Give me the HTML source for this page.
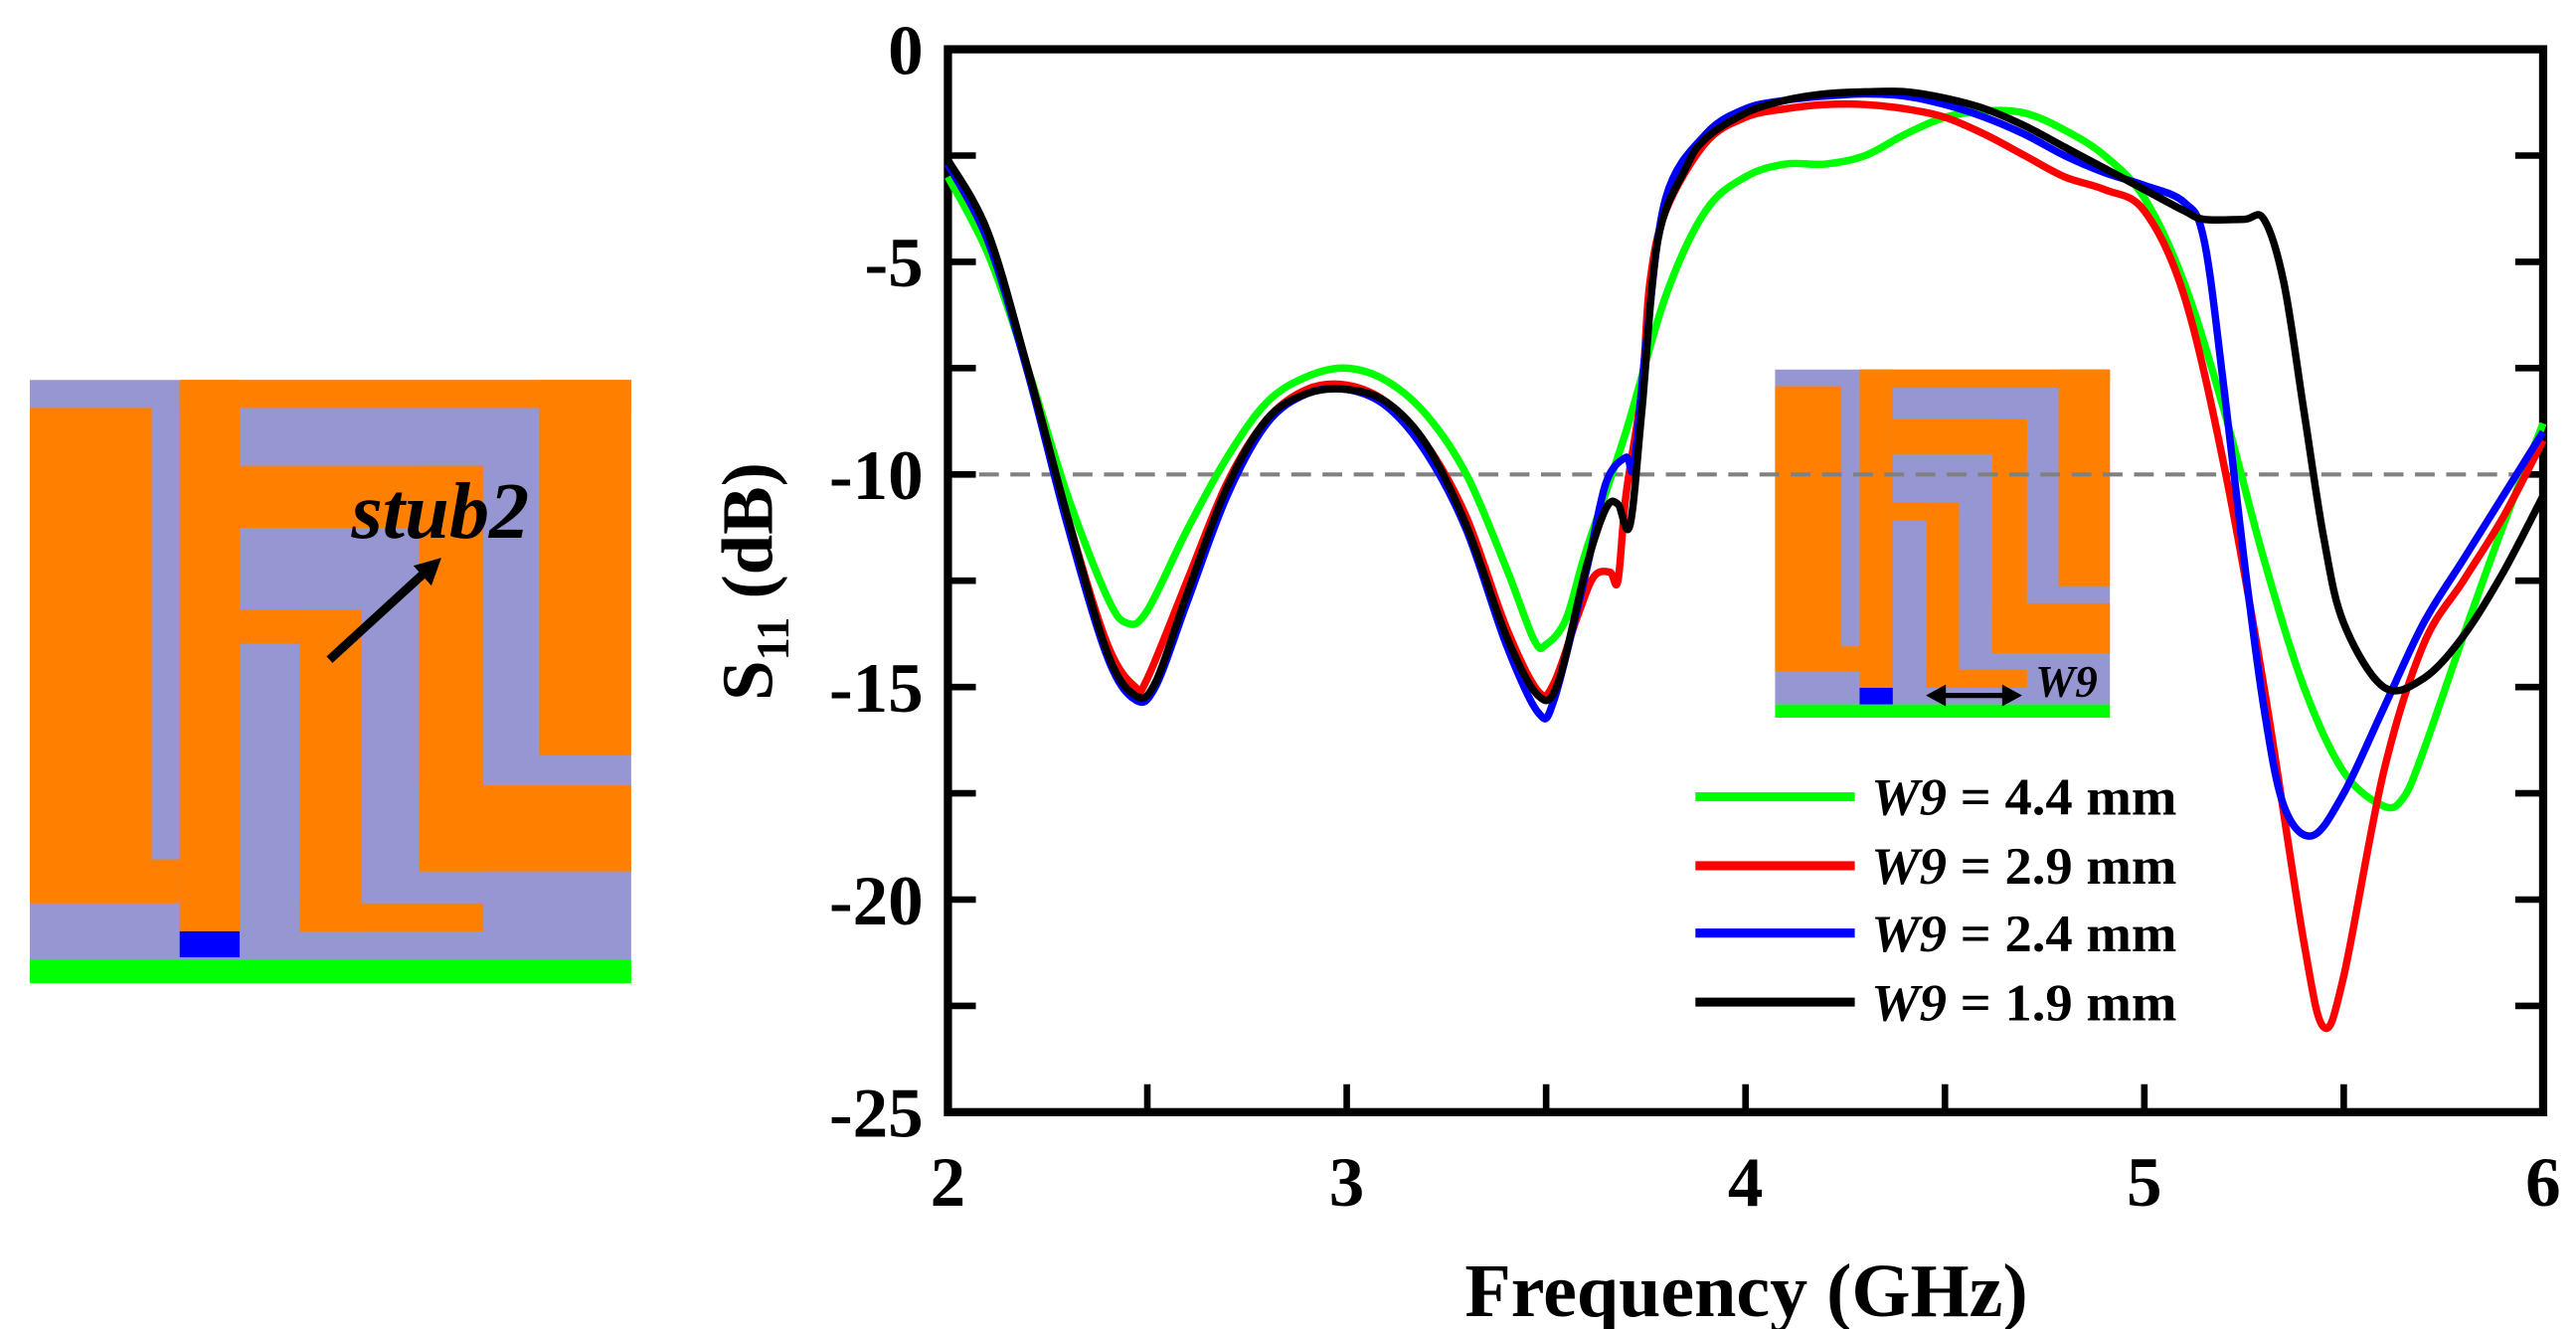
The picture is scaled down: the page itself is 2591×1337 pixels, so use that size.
<!DOCTYPE html>
<html><head><meta charset="utf-8"><style>
html,body{margin:0;padding:0;background:#fff;}
svg{display:block;}
text{font-family:"Liberation Serif",serif;font-weight:bold;}
</style></head>
<body>
<svg id="chart" xmlns="http://www.w3.org/2000/svg" width="2591" height="1337" viewBox="0 0 1568 809" preserveAspectRatio="none">
  <g transform="translate(12.1,224) scale(0.2432)">
    <rect x="25" y="30" width="1505" height="1450" fill="#9696d2"/>
    <rect x="25" y="1480" width="1505" height="60" fill="#00ff00"/>
    <g fill="#ff8000">
      <polygon points="25,100 330,100 330,1230 400,1230 400,1340 25,1340"/>
      <rect x="400" y="30" width="150" height="1380"/>
      <rect x="400" y="30" width="1130" height="70"/>
      <rect x="1300" y="30" width="230" height="940"/>
      <rect x="550" y="245" width="610" height="155"/>
      <rect x="1000" y="245" width="160" height="1015"/>
      <rect x="1000" y="1045" width="530" height="215"/>
      <rect x="550" y="605" width="305" height="85"/>
      <rect x="700" y="605" width="155" height="805"/>
      <rect x="700" y="1340" width="460" height="70"/>
    </g>
    <rect x="400" y="1410" width="150" height="65" fill="#0000ff"/>
    <text x="830" y="425" font-size="200" font-style="italic">stub2</text>
    <line x1="775" y1="730" x2="1010" y2="515" stroke="#000" stroke-width="22"/>
    <polygon points="1055,475 985,495 1030,545" fill="#000"/>
  </g>

  <g transform="translate(1071.4,217.9) scale(0.2018)">
    <rect x="45" y="35" width="1010" height="1010" fill="#9696d2"/>
    <rect x="45" y="1045" width="1010" height="40" fill="#00ff00"/>
    <g fill="#ff8000">
      <polygon points="45,85 245,85 245,870 300,870 300,945 45,945"/>
      <rect x="300" y="35" width="100" height="960"/>
      <rect x="300" y="35" width="755" height="55"/>
      <rect x="900" y="35" width="155" height="655"/>
      <rect x="400" y="185" width="405" height="105"/>
      <rect x="700" y="185" width="105" height="705"/>
      <rect x="700" y="740" width="355" height="150"/>
      <rect x="400" y="435" width="200" height="55"/>
      <rect x="500" y="435" width="100" height="560"/>
      <rect x="500" y="940" width="305" height="55"/>
    </g>
    <rect x="300" y="995" width="100" height="50" fill="#0000ff"/>
    <line x1="540" y1="1018" x2="750" y2="1018" stroke="#000" stroke-width="16"/>
    <polygon points="500,1018 560,985 560,1051" fill="#000"/>
    <polygon points="790,1018 730,985 730,1051" fill="#000"/>
    <text x="830" y="1022" font-size="135" font-style="italic">W9</text>
  </g>

  <g id="axes"></g>
  <g id="series"></g>
  <g id="legend"></g>
</svg>
<script>
const xTicks = [2, 3, 4, 5, 6];
const yTicks = [0, -5, -10, -15, -20, -25];
const seriesNames = ["W9 = 4.4 mm", "W9 = 2.9 mm", "W9 = 2.4 mm", "W9 = 1.9 mm"];
const seriesColors = ["#00ff00", "#ff0000", "#0000ff", "#000000"];
const freqGreen = [2.0,2.1,2.2,2.3,2.4,2.45,2.5,2.6,2.7,2.8,2.9,3.0,3.1,3.2,3.3,3.4,3.47,3.5,3.55,3.6,3.7,3.8,3.9,4.0,4.1,4.2,4.3,4.4,4.5,4.6,4.7,4.8,4.9,5.0,5.1,5.2,5.3,5.4,5.5,5.6,5.65,5.7,5.8,5.9,6.0];
const s11Green = [-3,-4.8,-7.5,-10.5,-12.9,-13.5,-13.2,-11.3,-9.6,-8.3,-7.7,-7.5,-7.8,-8.6,-10.0,-12.2,-13.9,-14.0,-13.4,-11.8,-9.0,-5.8,-3.8,-3.0,-2.7,-2.7,-2.5,-2.0,-1.6,-1.45,-1.5,-1.9,-2.5,-3.5,-5.5,-8.5,-12.0,-15.0,-17.0,-17.8,-17.6,-16.5,-13.8,-11.2,-8.8];
const freqRed = [2.0,2.1,2.2,2.3,2.4,2.47,2.5,2.6,2.7,2.8,2.9,3.0,3.1,3.2,3.3,3.4,3.48,3.52,3.58,3.62,3.66,3.68,3.7,3.74,3.76,3.8,3.9,4.0,4.1,4.2,4.3,4.4,4.5,4.6,4.7,4.8,4.9,5.0,5.1,5.2,5.3,5.4,5.45,5.5,5.6,5.7,5.8,5.9,6.0];
const s11Red = [-2.7,-4.5,-7.5,-11,-14.0,-15.0,-14.8,-12.5,-10.2,-8.7,-8.0,-7.9,-8.3,-9.3,-11.0,-13.6,-15.1,-14.9,-13.3,-12.4,-12.3,-12.5,-10.5,-8,-5.5,-3.8,-2.2,-1.6,-1.4,-1.3,-1.3,-1.4,-1.6,-2.0,-2.5,-3.0,-3.3,-3.8,-5.8,-9.8,-15,-21,-23,-21.8,-17,-14,-12.5,-11,-9.2];
const freqBlue = [2.0,2.1,2.2,2.3,2.4,2.47,2.52,2.6,2.7,2.8,2.9,3.0,3.1,3.2,3.3,3.4,3.48,3.52,3.6,3.65,3.7,3.72,3.75,3.8,3.9,4.0,4.1,4.2,4.3,4.4,4.5,4.6,4.7,4.8,4.9,5.0,5.1,5.15,5.2,5.25,5.3,5.35,5.42,5.5,5.6,5.7,5.8,5.9,6.0];
const s11Blue = [-2.7,-4.5,-7.6,-11.2,-14.3,-15.3,-15.0,-13,-10.5,-8.8,-8.1,-8.0,-8.4,-9.5,-11.3,-14,-15.6,-15.3,-12.3,-10.2,-9.6,-9.8,-7,-3.5,-2.0,-1.4,-1.2,-1.1,-1.05,-1.1,-1.3,-1.6,-2.0,-2.5,-2.9,-3.2,-3.6,-4.5,-8,-12,-15.5,-17.8,-18.5,-17.5,-15.5,-13.5,-12,-10.5,-9.0];
const freqBlack = [2.0,2.1,2.2,2.3,2.4,2.47,2.52,2.6,2.7,2.8,2.9,3.0,3.1,3.2,3.3,3.4,3.48,3.53,3.6,3.65,3.68,3.71,3.74,3.78,3.85,3.9,4.0,4.1,4.2,4.3,4.4,4.5,4.6,4.7,4.8,4.9,5.0,5.1,5.15,5.25,5.3,5.35,5.4,5.45,5.5,5.6,5.7,5.8,5.9,6.0];
const s11Black = [-2.6,-4.3,-7.5,-11,-14.2,-15.2,-14.9,-12.8,-10.3,-8.7,-8.1,-8.0,-8.3,-9.3,-11.2,-13.8,-15.2,-14.9,-12.2,-10.8,-10.7,-11.2,-8.5,-4.5,-2.8,-2.1,-1.5,-1.2,-1.05,-1.0,-1.0,-1.15,-1.4,-1.8,-2.3,-2.8,-3.3,-3.8,-4.0,-4.0,-4.0,-5.5,-8.5,-11.5,-13.5,-15.0,-14.8,-13.8,-12.3,-10.5];
const refLevel = -10;

const X0 = 577, X1 = 1548, Y0 = 30, Y1 = 677;
const xMin = 2, xMax = 6, yMax = 0, yMin = -25;
function sx(f){ return X0 + (f - xMin) / (xMax - xMin) * (X1 - X0); }
function sy(v){ return Y0 + (yMax - v) / (yMax - yMin) * (Y1 - Y0); }
const NS = "http://www.w3.org/2000/svg";
function mk(tag, attrs, parent){ const e = document.createElementNS(NS, tag); for (const k in attrs) e.setAttribute(k, attrs[k]); parent.appendChild(e); return e; }

const axes = document.getElementById('axes');
const ref = mk('line', {x1:X0, x2:X1, y1:sy(refLevel), y2:sy(refLevel), stroke:'#808080', 'stroke-width':2.5, 'stroke-dasharray':'12,7'}, axes);



for (let f = xMin; f <= xMax + 1e-9; f += 0.5) {
  const t1 = mk('line', {x1:sx(f), x2:sx(f), y1:Y1, y2:Y1-17, stroke:'#000', 'stroke-width':4}, axes);
  
  
}
for (let v = yMin; v <= yMax + 1e-9; v += 2.5) {
  const t1 = mk('line', {x1:X0, x2:X0+17, y1:sy(v), y2:sy(v), stroke:'#000', 'stroke-width':4}, axes);
  
  
  const t2 = mk('line', {x1:X1, x2:X1-17, y1:sy(v), y2:sy(v), stroke:'#000', 'stroke-width':4}, axes);
  
  
}
const frame = mk('rect', {x:X0, y:Y0, width:X1-X0, height:Y1-Y0, fill:'none', stroke:'#000', 'stroke-width':5}, axes);



xTicks.forEach(f => {
  const t = mk('text', {x:sx(f), y:734, 'font-size':43, 'text-anchor':'middle'}, axes);
  t.textContent = String(f);
  
  
});
yTicks.forEach(v => {
  const t = mk('text', {x:562, y:sy(v)+15, 'font-size':43, 'text-anchor':'end'}, axes);
  t.textContent = String(v);
  
  
});
const xt = mk('text', {x:1063, y:801, 'font-size':46, 'text-anchor':'middle'}, axes);
xt.textContent = 'Frequency (GHz)';


const yt = mk('text', {x:0, y:0, 'font-size':44, 'text-anchor':'middle', transform:'translate(470,354) rotate(-90)'}, axes);
yt.innerHTML = 'S<tspan font-size="28" dy="10">11</tspan><tspan dy="-10"> (dB)</tspan>';



function pathFor(fs, vs){
  const p = fs.map((f,i)=>[sx(f), sy(vs[i])]);
  let d = 'M' + p[0][0].toFixed(2) + ',' + p[0][1].toFixed(2);
  for (let i = 0; i < p.length - 1; i++) {
    const a = p[Math.max(0,i-1)], b = p[i], c = p[i+1], e = p[Math.min(p.length-1,i+2)];
    const c1 = [b[0] + (c[0]-a[0])/6, b[1] + (c[1]-a[1])/6];
    const c2 = [c[0] - (e[0]-b[0])/6, c[1] - (e[1]-b[1])/6];
    d += ' C' + c1.map(n=>n.toFixed(2)).join(',') + ' ' + c2.map(n=>n.toFixed(2)).join(',') + ' ' + c.map(n=>n.toFixed(2)).join(',');
  }
  return d;
}
const seriesG = document.getElementById('series');
const allF = [freqGreen, freqRed, freqBlue, freqBlack];
const allV = [s11Green, s11Red, s11Blue, s11Black];
const seriesKeys = ['series-w9-4-4mm', 'series-w9-2-9mm', 'series-w9-2-4mm', 'series-w9-1-9mm'];
for (let k = 0; k < 4; k++) {
  const p = mk('path', {d:pathFor(allF[k], allV[k]), fill:'none', stroke:seriesColors[k], 'stroke-width':4.5, 'stroke-linejoin':'round'}, seriesG);
  
  
}

const legendG = document.getElementById('legend');
const legendY = [485, 527, 568, 610];
for (let k = 0; k < 4; k++) {
  const g = mk('g', {}, legendG);
  
  
  mk('line', {x1:1032, x2:1129, y1:legendY[k], y2:legendY[k], stroke:seriesColors[k], 'stroke-width':5.5}, g);
  const t = mk('text', {x:1139, y:legendY[k]+11, 'font-size':32, textLength:186, lengthAdjust:'spacingAndGlyphs'}, g);
  const parts = seriesNames[k].split(' = ');
  t.innerHTML = '<tspan font-style="italic">' + parts[0] + '</tspan> = ' + parts[1];
}
</script>
</body></html>
